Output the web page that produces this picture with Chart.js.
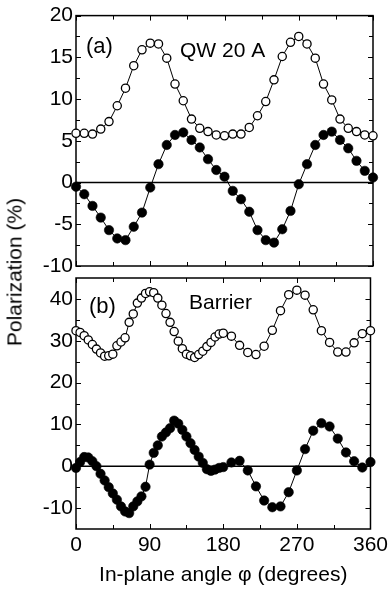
<!DOCTYPE html>
<html>
<head>
<meta charset="utf-8">
<script src="https://cdn.jsdelivr.net/npm/chart.js@4.4.1/dist/chart.umd.min.js"></script>
<style>
html,body{margin:0;padding:0;background:#fff;}
body{width:392px;height:593px;position:relative;overflow:hidden;font-family:"Liberation Sans",Arial,sans-serif;}
canvas{position:absolute;left:0;top:0;}
#ytitle{position:absolute;left:14px;top:272px;transform:translate(-50%,-50%) rotate(-90deg);font-size:21px;line-height:25px;white-space:nowrap;color:#000;font-family:"Liberation Sans",Arial,sans-serif;}
</style>
</head>
<body>
<canvas id="ca" width="392" height="593"></canvas>
<canvas id="cb" width="392" height="593"></canvas>
<div id="ytitle">Polarization (%)</div>
<script>
// ---- tick values ----
const xMajorTicks = [0, 90, 180, 270, 360];
const xMinorTicks = [45, 135, 225, 315];
const yTicksA = [-10, -5, 0, 5, 10, 15, 20];
const yMinorA = [-7.5, -2.5, 2.5, 7.5, 12.5, 17.5];
const yTicksB = [-10, 0, 10, 20, 30, 40];
const yMinorB = [-5, 5, 15, 25, 35];

// ---- panel (a): QW 20 A ----
const anglesQW = [0, 10, 20, 30, 40, 50, 60, 70, 80, 90, 100, 110, 120, 130, 140, 150, 160, 170, 180,
  190, 200, 210, 220, 230, 240, 250, 260, 270, 280, 290, 300, 310, 320, 330, 340, 350, 360];
const qwOpen = [5.9, 5.9, 5.8, 6.4, 7.3, 9.2, 11.3, 14.0, 15.9, 16.7, 16.6, 14.9, 11.8, 9.8, 7.6, 6.5, 6.1, 5.7, 5.6,
  5.8, 5.8, 6.6, 8.0, 9.7, 12.3, 15.1, 16.8, 17.5, 16.6, 14.9, 11.8, 9.9, 7.6, 6.5, 6.1, 5.7, 5.6];
const qwFilled = [-0.5, -1.4, -2.8, -4.2, -5.7, -6.7, -6.9, -5.3, -3.6, -0.6, 2.2, 4.5, 5.7, 6.0, 5.1, 4.2, 2.8, 1.5, 0.7,
  -1.0, -2.0, -3.5, -5.7, -6.9, -7.2, -5.6, -3.4, -0.2, 2.2, 4.5, 5.7, 6.1, 5.1, 4.1, 2.6, 1.4, 0.6];

// ---- panel (b): Barrier ----
const anglesBarrier = [0, 5, 10, 15, 20, 25, 30, 35, 40, 45, 50, 55, 60, 65, 70, 75, 80, 85, 90,
  95, 100, 105, 110, 115, 120, 125, 130, 135, 140, 145, 150, 155, 160, 165, 170, 175, 180,
  190, 200, 210, 220, 230, 240, 250, 260, 270, 280, 290, 300, 310, 320, 330, 340, 350, 360];
const barrierOpen = [32.4, 32.0, 31.2, 30.2, 29.1, 28.0, 27.1, 26.3, 26.4, 26.8, 28.8, 29.7, 30.7, 34.4, 36.4, 39.0, 40.2, 41.3, 41.7,
  41.5, 40.2, 38.5, 36.5, 34.4, 32.2, 29.9, 28.1, 26.8, 26.4, 26.0, 26.7, 27.5, 28.6, 29.6, 30.9, 31.6, 31.8,
  31.1, 28.9, 27.2, 26.7, 28.7, 32.5, 37.2, 41.0, 42.1, 40.9, 37.4, 32.4, 29.6, 27.3, 27.3, 29.5, 31.7, 32.4];
const barrierFilled = [-0.4, 1.0, 2.2, 2.1, 1.2, 0.0, -1.8, -3.4, -5.0, -6.5, -8.0, -9.6, -10.8, -11.2, -9.6, -8.4, -7.2, -4.9, 0.4,
  3.2, 5.0, 7.1, 8.1, 9.1, 10.9, 10.2, 8.7, 7.1, 5.5, 3.9, 2.3, 0.8, -0.7, -1.1, -0.8, -0.4, -0.2,
  0.9, 1.3, -1.0, -4.8, -8.2, -9.8, -9.6, -6.2, -1.0, 4.1, 8.5, 10.3, 9.5, 6.6, 3.3, 1.2, -0.3, 1.0];

const FONT = '"Liberation Sans", Arial, sans-serif';
Chart.defaults.font.family = FONT;
Chart.defaults.font.size = 21;
Chart.defaults.color = '#000';

function pts(xs, ys) { return xs.map((x, i) => ({x: x, y: ys[i]})); }

function openSet(xs, ys) {
  return {data: pts(xs, ys), showLine: true, borderColor: '#000', borderWidth: 1,
    pointRadius: 4.1, pointBorderWidth: 1.3, pointBackgroundColor: '#fff', pointBorderColor: '#000',
    pointHoverRadius: 4.1, clip: false, tension: 0};
}
function filledSet(xs, ys) {
  return {data: pts(xs, ys), showLine: true, borderColor: '#000', borderWidth: 1,
    pointRadius: 4.7, pointBorderWidth: 0.6, pointBackgroundColor: '#000', pointBorderColor: '#000',
    pointHoverRadius: 4.7, clip: false, tension: 0};
}

const framePlugin = {
  id: 'frame',
  beforeDatasetsDraw(chart, args, o) {
    const {ctx, chartArea: a, scales: {x, y}} = chart;
    ctx.save();
    ctx.strokeStyle = '#000';
    // zero line
    ctx.lineWidth = 1.5;
    const y0 = y.getPixelForValue(0);
    ctx.beginPath(); ctx.moveTo(a.left, y0); ctx.lineTo(a.right, y0); ctx.stroke();
    // ticks
    ctx.lineWidth = 1;
    ctx.beginPath();
    const xt = (vals, len) => vals.forEach(v => {
      const p = Math.round(x.getPixelForValue(v)) + 0.5;
      ctx.moveTo(p, a.top); ctx.lineTo(p, a.top + len);
      ctx.moveTo(p, a.bottom); ctx.lineTo(p, a.bottom - len);
    });
    const yt = (vals, len) => vals.forEach(v => {
      const p = Math.round(y.getPixelForValue(v)) + 0.5;
      ctx.moveTo(a.left, p); ctx.lineTo(a.left + len, p);
      ctx.moveTo(a.right, p); ctx.lineTo(a.right - len, p);
    });
    xt(xMajorTicks, 5); xt(xMinorTicks, 4);
    yt(o.major, 5); yt(o.minor, 4);
    ctx.stroke();
    // frame
    ctx.lineWidth = 1.5;
    ctx.strokeRect(a.left, a.top, a.right - a.left, a.bottom - a.top);
    ctx.restore();
  },
  afterDatasetsDraw(chart, args, o) {
    const {ctx, chartArea: a} = chart;
    ctx.save();
    ctx.fillStyle = '#000';
    ctx.textBaseline = 'alphabetic';
    ctx.textAlign = 'left';
    (o.labels || []).forEach(l => {
      ctx.font = l.size + 'px ' + FONT;
      ctx.fillText(l.text, a.left + l.dx, a.top + l.dy);
    });
    ctx.restore();
  }
};

function makeChart(id, datasets, yMin, yMax, yTicks, yMinor, showX, pad, labels) {
  return new Chart(document.getElementById(id), {
    type: 'scatter',
    data: {datasets: datasets},
    options: {
      responsive: false,
      animation: false,
      events: [],
      layout: {padding: pad},
      plugins: {legend: {display: false}, tooltip: {enabled: false},
        frame: {major: yTicks, minor: yMinor, labels: labels}},
      scales: {
        x: {
          type: 'linear', min: 0, max: 360,
          afterBuildTicks: s => { s.ticks = xMajorTicks.map(v => ({value: v})); },
          afterFit: s => { s.height = showX ? 64 : 0; },
          grid: {display: false, drawTicks: false},
          border: {display: false},
          ticks: {display: showX, padding: 4, maxRotation: 0, autoSkip: false, font: {size: 21}},
          title: {display: showX, text: 'In-plane angle φ (degrees)', font: {size: 21, lineHeight: 1.2},
            padding: {top: 0, bottom: 5}}
        },
        y: {
          type: 'linear', min: yMin, max: yMax,
          afterBuildTicks: s => { s.ticks = yTicks.map(v => ({value: v})); },
          afterFit: s => { s.width = 76; },
          grid: {display: false, drawTicks: false},
          border: {display: false},
          ticks: {padding: 3, autoSkip: false, font: {size: 21}}
        }
      }
    },
    plugins: [framePlugin]
  });
}

makeChart('ca', [openSet(anglesQW, qwOpen), filledSet(anglesQW, qwFilled)],
  -10, 20, yTicksA, yMinorA, false, {left: 0, right: 19, top: 15, bottom: 327},
  [{text: '(a)', size: 22, dx: 10, dy: 37.5}, {text: 'QW 20 A', size: 21, dx: 104, dy: 41}]);

makeChart('cb', [openSet(anglesBarrier, barrierOpen), filledSet(anglesBarrier, barrierFilled)],
  -15, 45, yTicksB, yMinorB, true, {left: 0, right: 19, top: 278, bottom: 0},
  [{text: '(b)', size: 22, dx: 13, dy: 35}, {text: 'Barrier', size: 21, dx: 113, dy: 31}]);
</script>
</body>
</html>
